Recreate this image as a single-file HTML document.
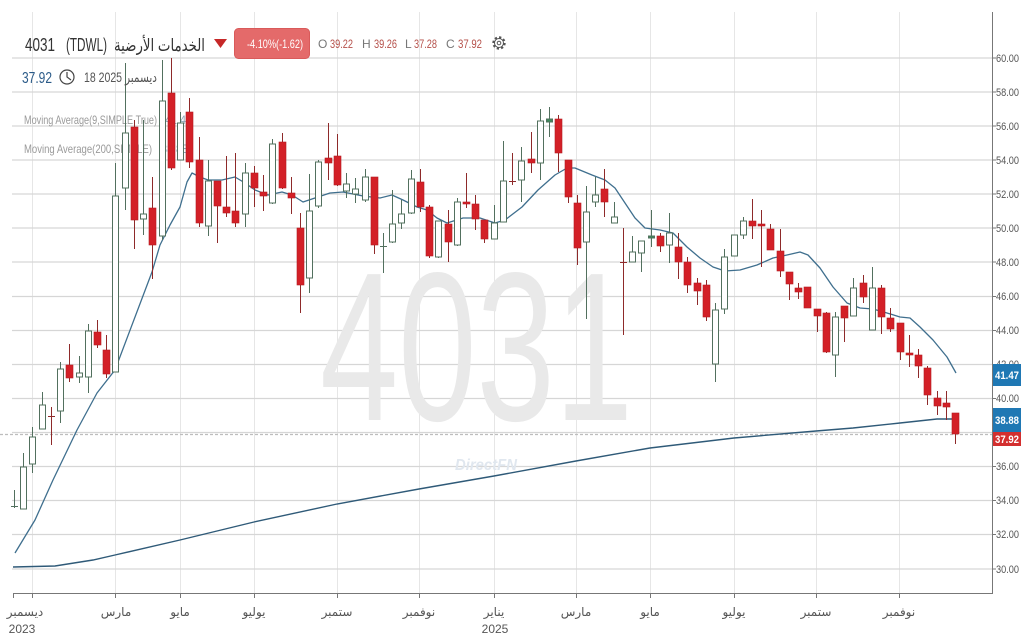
<!DOCTYPE html>
<html><head><meta charset="utf-8">
<style>
html,body{margin:0;padding:0;background:#fff;}
svg{display:block}
text{font-family:"Liberation Sans","DejaVu Sans",sans-serif;}
</style></head><body>
<svg id="s" width="1024" height="640" viewBox="0 0 1024 640" xmlns="http://www.w3.org/2000/svg">
<rect width="1024" height="640" fill="#fff"/>
<!-- vertical grid -->
<g stroke="#e6e6e6" stroke-width="1">
<line x1="32.5" y1="12" x2="32.5" y2="593"/>
<line x1="115.5" y1="12" x2="115.5" y2="593"/>
<line x1="180.5" y1="12" x2="180.5" y2="593"/>
<line x1="254.5" y1="12" x2="254.5" y2="593"/>
<line x1="337.5" y1="12" x2="337.5" y2="593"/>
<line x1="419.5" y1="12" x2="419.5" y2="593"/>
<line x1="494.5" y1="12" x2="494.5" y2="593"/>
<line x1="576.5" y1="12" x2="576.5" y2="593"/>
<line x1="650.5" y1="12" x2="650.5" y2="593"/>
<line x1="734.5" y1="12" x2="734.5" y2="593"/>
<line x1="816.5" y1="12" x2="816.5" y2="593"/>
<line x1="899.5" y1="12" x2="899.5" y2="593"/>
</g>
<!-- horizontal grid -->
<g stroke="#d6d6d6" stroke-width="1.2">
<line x1="12" y1="58" x2="992" y2="58"/>
<line x1="12" y1="92" x2="992" y2="92"/>
<line x1="12" y1="126" x2="992" y2="126"/>
<line x1="12" y1="160" x2="992" y2="160"/>
<line x1="12" y1="194" x2="992" y2="194"/>
<line x1="12" y1="228" x2="992" y2="228"/>
<line x1="12" y1="262" x2="992" y2="262"/>
<line x1="12" y1="296.5" x2="992" y2="296.5"/>
<line x1="12" y1="330.5" x2="992" y2="330.5"/>
<line x1="12" y1="364.5" x2="992" y2="364.5"/>
<line x1="12" y1="398.5" x2="992" y2="398.5"/>
<line x1="12" y1="432.5" x2="992" y2="432.5"/>
<line x1="12" y1="466.5" x2="992" y2="466.5"/>
<line x1="12" y1="500.5" x2="992" y2="500.5"/>
<line x1="12" y1="534.5" x2="992" y2="534.5"/>
<line x1="12" y1="569" x2="992" y2="569"/>
</g>
<!-- watermark -->
<text x="320" y="420" font-size="212" fill="#e9e9e9" textLength="313" lengthAdjust="spacingAndGlyphs">4031</text>
<text x="455" y="470" font-size="16" font-style="italic" font-weight="bold" fill="#e0e7ef" textLength="62" lengthAdjust="spacingAndGlyphs">DirectFN</text>
<!-- legend -->
<text x="24" y="124" font-size="12" fill="#9a9a9a" textLength="133" lengthAdjust="spacingAndGlyphs">Moving Average(9,SIMPLE,True)</text>
<text x="165" y="124" font-size="12" fill="#8ea6b8" textLength="27" lengthAdjust="spacingAndGlyphs">41.47</text>
<text x="24" y="153" font-size="12" fill="#9a9a9a" textLength="128" lengthAdjust="spacingAndGlyphs">Moving Average(200,SIMPLE)</text>
<text x="161" y="153" font-size="12" fill="#7e9cb2" textLength="27" lengthAdjust="spacingAndGlyphs">38.88</text>
<!-- current price dashed -->
<line x1="0" y1="434.5" x2="992" y2="434.5" stroke="#bdbdbd" stroke-width="1.2" stroke-dasharray="3 2"/>
<!-- MA200 -->
<polyline fill="none" stroke="#2f5a78" stroke-width="1.4" points="13,567 55,566 93,560 115,555 180,540 254,522 337,504 419,489 494,476 576,461 650,448 734,438 816,431 853,428 900,423 937,419 956,419"/>
<!-- MA9 -->
<polyline fill="none" stroke="#3f6f8e" stroke-width="1.3" stroke-linejoin="round" points="15,553 35,520 53,480 77,430 97,393 115,370 152,272 160,245 170,225 180,207 187,182 192,173 200,177 208,180 222,180 235,177 245,183 255,190 268,195 282,192 292,195 303,202 315,198 330,193 343,192 363,196 380,198 392,195 403,200 417,207 427,210 437,218 447,223 463,218 480,218 495,223 505,220 522,207 538,190 555,175 567,168 575,168 592,175 605,180 615,188 625,203 635,218 645,228 660,230 673,233 687,247 700,258 713,267 725,271 740,270 757,265 773,258 787,255 800,252 808,255 820,268 833,287 847,303 860,308 873,309 887,313 900,317 910,318 920,327 933,340 947,357 956,373"/>
<g id="c"></g>
<!-- axes -->
<line x1="992.5" y1="12" x2="992.5" y2="594" stroke="#777" stroke-width="1"/>
<line x1="13" y1="593.5" x2="993" y2="593.5" stroke="#777" stroke-width="1"/>
<g stroke="#777" stroke-width="1">
<line x1="13.5" y1="593" x2="13.5" y2="598"/>
<line x1="32.5" y1="593" x2="32.5" y2="598"/>
<line x1="115.5" y1="593" x2="115.5" y2="598"/>
<line x1="180.5" y1="593" x2="180.5" y2="598"/>
<line x1="254.5" y1="593" x2="254.5" y2="598"/>
<line x1="337.5" y1="593" x2="337.5" y2="598"/>
<line x1="419.5" y1="593" x2="419.5" y2="598"/>
<line x1="494.5" y1="593" x2="494.5" y2="598"/>
<line x1="576.5" y1="593" x2="576.5" y2="598"/>
<line x1="650.5" y1="593" x2="650.5" y2="598"/>
<line x1="734.5" y1="593" x2="734.5" y2="598"/>
<line x1="816.5" y1="593" x2="816.5" y2="598"/>
<line x1="899.5" y1="593" x2="899.5" y2="598"/>
</g>
<g stroke="#777" stroke-width="1">
<line x1="992" y1="58" x2="996" y2="58"/><line x1="992" y1="92" x2="996" y2="92"/>
<line x1="992" y1="126" x2="996" y2="126"/><line x1="992" y1="160" x2="996" y2="160"/>
<line x1="992" y1="194" x2="996" y2="194"/><line x1="992" y1="228" x2="996" y2="228"/>
<line x1="992" y1="262" x2="996" y2="262"/><line x1="992" y1="296.5" x2="996" y2="296.5"/>
<line x1="992" y1="330.5" x2="996" y2="330.5"/><line x1="992" y1="398.5" x2="996" y2="398.5"/>
<line x1="992" y1="466.5" x2="996" y2="466.5"/><line x1="992" y1="500.5" x2="996" y2="500.5"/>
<line x1="992" y1="534.5" x2="996" y2="534.5"/><line x1="992" y1="569" x2="996" y2="569"/>
</g>
<!-- price labels -->
<g font-size="11" fill="#555">
<text x="996" y="62" textLength="23" lengthAdjust="spacingAndGlyphs">60.00</text>
<text x="996" y="96" textLength="23" lengthAdjust="spacingAndGlyphs">58.00</text>
<text x="996" y="130" textLength="23" lengthAdjust="spacingAndGlyphs">56.00</text>
<text x="996" y="164" textLength="23" lengthAdjust="spacingAndGlyphs">54.00</text>
<text x="996" y="198" textLength="23" lengthAdjust="spacingAndGlyphs">52.00</text>
<text x="996" y="232" textLength="23" lengthAdjust="spacingAndGlyphs">50.00</text>
<text x="996" y="266" textLength="23" lengthAdjust="spacingAndGlyphs">48.00</text>
<text x="996" y="300" textLength="23" lengthAdjust="spacingAndGlyphs">46.00</text>
<text x="996" y="334" textLength="23" lengthAdjust="spacingAndGlyphs">44.00</text>
<text x="996" y="368" textLength="23" lengthAdjust="spacingAndGlyphs">42.00</text>
<text x="996" y="402" textLength="23" lengthAdjust="spacingAndGlyphs">40.00</text>
<text x="996" y="470" textLength="23" lengthAdjust="spacingAndGlyphs">36.00</text>
<text x="996" y="504" textLength="23" lengthAdjust="spacingAndGlyphs">34.00</text>
<text x="996" y="538" textLength="23" lengthAdjust="spacingAndGlyphs">32.00</text>
<text x="996" y="573" textLength="23" lengthAdjust="spacingAndGlyphs">30.00</text>
</g>
<!-- value boxes -->
<rect x="993" y="364" width="28" height="22" fill="#1f78b4"/>
<text x="995" y="379" font-size="11" font-weight="bold" fill="#fff" textLength="24" lengthAdjust="spacingAndGlyphs">41.47</text>
<rect x="993" y="430" width="28" height="16" fill="#d32f2f"/>
<text x="995" y="443" font-size="11" font-weight="bold" fill="#fff" textLength="24" lengthAdjust="spacingAndGlyphs">37.92</text>
<rect x="993" y="408" width="28" height="24" fill="#1f78b4"/>
<text x="995" y="424" font-size="11" font-weight="bold" fill="#fff" textLength="24" lengthAdjust="spacingAndGlyphs">38.88</text>
<!-- x labels -->
<g font-size="12" fill="#555" text-anchor="middle">
<text x="25" y="616">ديسمبر</text>
<text x="22" y="633">2023</text>
<text x="116" y="616">مارس</text>
<text x="180" y="616">مايو</text>
<text x="254" y="616">يوليو</text>
<text x="337" y="616">ستمبر</text>
<text x="419" y="616">نوفمبر</text>
<text x="494" y="616">يناير</text>
<text x="495" y="633">2025</text>
<text x="576" y="616">مارس</text>
<text x="650" y="616">مايو</text>
<text x="734" y="616">يوليو</text>
<text x="816" y="616">ستمبر</text>
<text x="899" y="616">نوفمبر</text>
</g>
<!-- header -->
<text x="25" y="51" font-size="18" fill="#333" textLength="30" lengthAdjust="spacingAndGlyphs">4031</text>
<text x="66" y="51" font-size="18" fill="#333" textLength="41" lengthAdjust="spacingAndGlyphs">(TDWL)</text>
<text x="114" y="51" font-size="17" fill="#333" textLength="91" lengthAdjust="spacingAndGlyphs">الخدمات الأرضية</text>
<polygon points="214,39 227,39 220.5,48" fill="#c62828"/>
<rect x="234.5" y="28.5" width="75" height="30" rx="4" fill="#e46a6a" stroke="#d95a5a"/>
<text x="247" y="48" font-size="12" fill="#fff" textLength="56" lengthAdjust="spacingAndGlyphs">-4.10%(-1.62)</text>
<g font-size="12">
<text x="318" y="48" fill="#777">O</text>
<text x="330" y="48" fill="#b5504a" textLength="23" lengthAdjust="spacingAndGlyphs">39.22</text>
<text x="362" y="48" fill="#777">H</text>
<text x="374" y="48" fill="#b5504a" textLength="23" lengthAdjust="spacingAndGlyphs">39.26</text>
<text x="405" y="48" fill="#777">L</text>
<text x="414" y="48" fill="#b5504a" textLength="23" lengthAdjust="spacingAndGlyphs">37.28</text>
<text x="446" y="48" fill="#777">C</text>
<text x="458" y="48" fill="#b5504a" textLength="24" lengthAdjust="spacingAndGlyphs">37.92</text>
</g>
<circle cx="499" cy="43" r="5.5" fill="none" stroke="#555" stroke-width="2.4" stroke-dasharray="2.2 2.1"/>
<circle cx="499" cy="43" r="4.5" fill="none" stroke="#555" stroke-width="1"/>
<circle cx="499" cy="43" r="1.8" fill="none" stroke="#555" stroke-width="1"/>
<text x="22" y="83" font-size="16" fill="#2a5a88" textLength="30" lengthAdjust="spacingAndGlyphs">37.92</text>
<circle cx="67" cy="77" r="7" fill="none" stroke="#444" stroke-width="1.2"/>
<polyline points="67,72 67,77 71,80" fill="none" stroke="#444" stroke-width="1.2"/>
<text x="84" y="82" font-size="14" fill="#555" textLength="73" lengthAdjust="spacingAndGlyphs">18 2025 ديسمبر</text>
</svg>
<script>
(function(){
var d=[
[506,508,490,508,2],[467,509,453,509,1],[437,464,427,473,1],[405,429,392,429,1],[416,416,407,445,3],
[369,411,362,423,1],[365,378,344,382,0],[373,377,356,383,1],[331,377,324,393,1],[332,345,320,348,0],
[350,374,335,378,0],[196,372,163,372,1],[133,188,63,210,1],[127,220,120,249,0],[214,219,120,235,1],
[208,245,177,279,0],[101,236,60,240,1],[93,168,58,170,0],[123,160,112,160,1],[112,162,98,168,0],
[160,223,137,227,0],[181,226,160,236,1],[181,206,181,243,0],[207,213,156,217,0],[211,223,153,227,0],
[173,214,163,227,1],[173,188,166,207,0],[192,196,175,211,0],[144,203,139,204,1],[142,188,133,189,0],
[193,198,177,214,0],[228,285,213,313,0],[211,278,174,293,1],[162,206,160,208,1],[158,163,123,180,0],
[156,185,134,186,0],[184,191,173,198,1],[189,194,178,203,1],[177,200,169,202,1],[177,245,177,254,0],
[246,246,233,273,2],[224,242,190,243,1],[214,223,200,229,1],[179,213,170,214,1],[182,207,169,212,0],
[207,256,205,258,0],[221,257,221,258,1],[224,242,210,262,0],[202,245,198,246,1],[202,204,173,208,0],
[204,219,195,230,0],[220,239,220,243,0],[223,239,205,239,1],[181,222,141,222,1],[181,181,153,185,3],
[161,180,147,202,1],[159,163,132,173,0],[121,163,109,180,1],[119,122,107,137,4],[119,153,115,172,0],
[160,197,160,203,0],[203,248,195,265,0],[212,242,186,319,1],[195,202,177,207,1],[189,202,169,217,0],
[217,223,202,223,1],[262,262,228,335,3],[252,262,236,262,1],[241,253,241,272,1],[236,238,210,247,4],
[236,246,233,252,0],[233,245,213,263,1],[247,262,233,279,0],[262,285,257,293,0],[283,291,278,305,0],
[285,317,280,321,0],[310,364,303,382,1],[257,309,249,314,1],[235,256,235,256,1],[221,235,217,239,1],
[221,226,199,239,0],[224,226,210,267,0],[229,250,224,250,0],[251,271,229,277,0],[272,284,272,300,0],
[288,292,283,299,0],[287,308,287,308,0],[309,316,309,332,0],[313,352,312,353,0],[317,355,312,377,1],
[306,318,306,342,0],[288,316,278,316,1],[283,297,275,303,0],[288,330,267,330,1],[288,317,285,334,0],
[318,329,308,332,0],[323,352,323,360,0],[353,355,335,367,0],[355,366,349,378,0],[368,395,366,405,0],
[398,406,391,415,0],[403,407,391,420,0],[413,434,413,444,0]];
var g=document.getElementById('c'),h='';
for(var i=0;i<d.length;i++){
 var c=d[i],x=Math.round(14+i*9.225)+0.5,t=c[4];
 var wc=(t==0||t==3)?'#8e2a2a':'#52705e';
 h+='<line x1="'+x+'" y1="'+c[2]+'" x2="'+x+'" y2="'+c[3]+'" stroke="'+wc+'" stroke-width="1"/>';
 if(t==2||t==3){
  h+='<line x1="'+(x-3.5)+'" y1="'+(c[0]+0.5)+'" x2="'+(x+3.5)+'" y2="'+(c[0]+0.5)+'" stroke="'+wc+'" stroke-width="1"/>';
 }else if(t==0){
  h+='<rect x="'+(x-3.5)+'" y="'+c[0]+'" width="7" height="'+Math.max(2,c[1]-c[0])+'" fill="#d32027" stroke="#b51d22" stroke-width="0.6"/>';
 }else if(t==4){
  h+='<rect x="'+(x-3)+'" y="'+c[0]+'" width="6" height="'+Math.max(2,c[1]-c[0])+'" fill="#3d8a5a" stroke="#52705e" stroke-width="1"/>';
 }else{
  h+='<rect x="'+(x-3)+'" y="'+c[0]+'" width="6" height="'+Math.max(2,c[1]-c[0])+'" fill="#fff" stroke="#52705e" stroke-width="1"/>';
 }
}
g.innerHTML=h;
})();
</script>
</body></html>
